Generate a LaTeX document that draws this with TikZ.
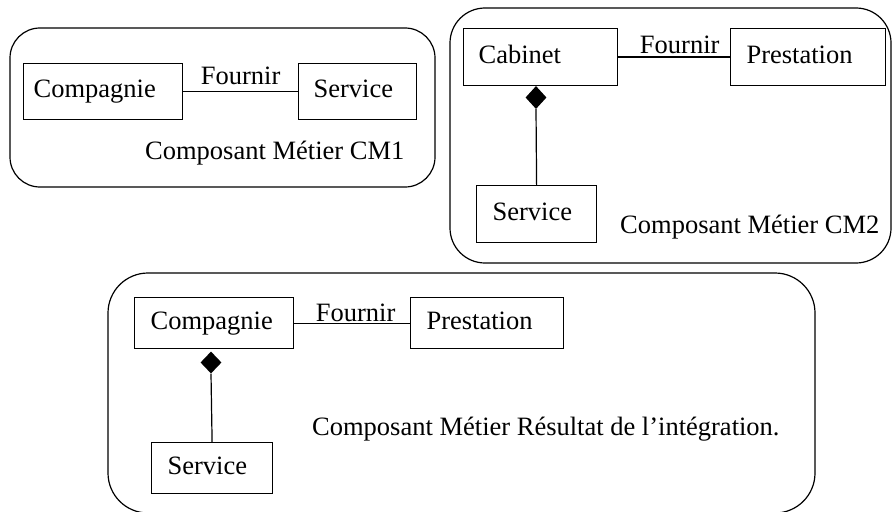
\documentclass[tikz,border=0pt]{standalone}
\usepackage{fontspec}
\setmainfont{Liberation Serif}
\usetikzlibrary{shapes.geometric}
\tikzset{
  frame/.style={draw, line width=1.2pt, rounded corners=#1},
  cls/.style={draw, line width=1.2pt, rectangle, anchor=north west, align=left,
    inner ysep=0pt, text height=18pt, text depth=6pt},
  link/.style={line width=1.2pt},
  fournir/.style={anchor=base, inner sep=0pt},
  caption/.style={anchor=base west, inner sep=0pt},
  compo/.style={diamond, fill=black, draw=none, inner sep=0pt, minimum width=21pt, minimum height=23pt},
}
\begin{document}
\begin{tikzpicture}[x=1pt, y=-1pt, font=\fontsize{26.5}{30}\selectfont]
\useasboundingbox (0,0) rectangle (893,511);
% frames
\draw[frame=30pt] (10,28) rectangle (435,187);
\draw[frame=35pt] (450,8) rectangle (891,263);
\draw[frame=40pt] (108,273) rectangle (815,513);
% CM1
\node[cls, minimum height=56pt, text width=139pt, inner xsep=10pt] (c1) at (23,63) {Compagnie};
\node[cls, minimum height=56pt, text width=88pt, inner xsep=15pt] (s1) at (298,63) {Service};
\draw[link] (c1) -- node[fournir, pos=0.5, yshift=7pt] (f1) {Fournir} (s1);
\node[caption] (t1) at (145,159) {Composant Métier CM1};
% CM2
\node[cls, minimum height=57pt, text width=124pt, inner xsep=15pt] (c2) at (463,28) {Cabinet};
\node[cls, minimum height=57pt, text width=123pt, inner xsep=16pt] (p2) at (730,28) {Prestation};
\node[cls, minimum height=57pt, text width=88pt, inner xsep=16pt] (s2) at (476,185) {Service};
\draw[link] (c2) -- node[fournir, pos=0.55, yshift=4pt] (f2) {Fournir} (p2);
\node[compo] (d2) at (536,97.5) {};
\draw[link] (d2.south) -- (s2.north);
\node[caption] (t2) at (620,233) {Composant Métier CM2};
% Result
\node[cls, minimum height=51pt, text width=127pt, inner xsep=16pt] (c3) at (134,297) {Compagnie};
\node[cls, minimum height=51pt, text width=121pt, inner xsep=16pt] (p3) at (410,297) {Prestation};
\node[cls, minimum height=51pt, text width=89pt, inner xsep=16pt] (s3) at (151,442) {Service};
\draw[link] (c3) -- node[fournir, pos=0.53, yshift=2pt] (f3) {Fournir} (p3);
\node[compo, minimum height=22pt] (d3) at (211,362.5) {};
\draw[link] (d3.south) -- (s3.north);
\node[caption] (t3) at (312,435) {Composant Métier Résultat de l’intégration.};
\end{tikzpicture}
\end{document}
